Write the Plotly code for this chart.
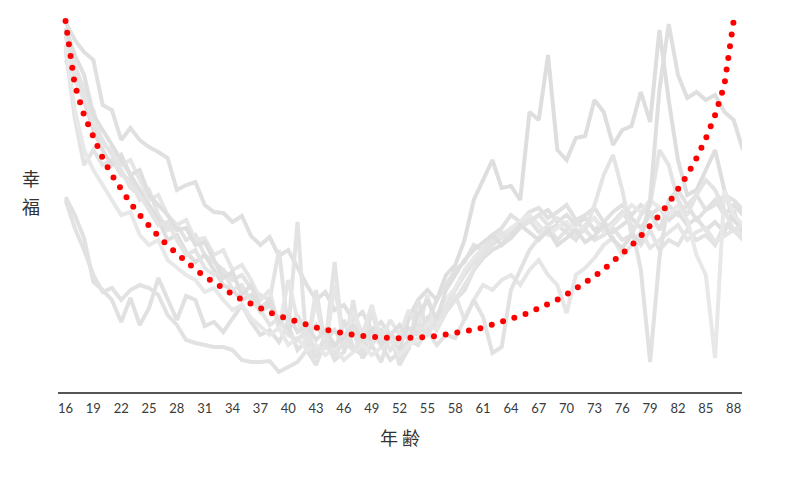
import plotly.graph_objects as go

# ---------------- data ----------------
start_age = 16
tick_ages = [16, 19, 22, 25, 28, 31, 34, 37, 40, 43, 46, 49, 52, 55, 58, 61, 64, 67, 70, 73, 76, 79, 82, 85, 88]

# fitted U-curve (ages 16..88)
fit_half = [371, 306.9, 276.9, 253.4, 233.9, 216.9, 202.1, 188.8, 176.8, 165.9, 155.9, 146.6,
            137.9, 129.9, 122.5, 115.6, 109.2, 103.2, 97.6, 92.4, 87.7, 83.4, 79.5, 76.0,
            72.8, 69.8, 67.0, 64.5, 62.3, 60.3, 58.6, 57.2, 56.0, 55.0, 54.3, 53.9]
fit_min = [53.8]
fit_curve = fit_half + fit_min + fit_half[::-1]

# individual series (ages 16..89)
s1 = [370, 352, 340, 332, 287, 282, 252, 264, 252, 245, 240, 234, 202, 207, 210, 187, 180, 179, 170, 176,
      156, 147, 155, 136, 142, 124, 107, 92, 100, 82, 87, 72, 80, 62, 70, 57, 52, 64, 57, 74,
      62, 80, 92, 102, 122, 134, 142, 147, 160, 167, 170, 177, 182, 170, 177, 167, 174, 162, 170, 160,
      167, 174, 164, 177, 184, 172, 180, 167, 174, 162, 170, 160, 182, 154]
s2 = [342, 274, 227, 242, 227, 232, 217, 212, 192, 202, 177, 162, 167, 152, 157, 137, 130, 122, 112, 117,
      104, 97, 92, 142, 62, 170, 42, 102, 47, 130, 42, 92, 37, 82, 47, 54, 32, 52, 47, 62,
      72, 87, 102, 117, 130, 137, 147, 154, 162, 166, 172, 160, 166, 152, 162, 170, 162, 152, 157, 164,
      152, 157, 147, 162, 142, 152, 147, 162, 152, 157, 147, 167, 162, 152]
s3 = [195, 177, 154, 110, 102, 92, 70, 94, 67, 84, 114, 92, 72, 96, 92, 66, 70, 60, 74, 87,
      70, 57, 62, 50, 67, 42, 52, 34, 57, 40, 72, 44, 37, 62, 47, 32, 40, 52, 62, 70,
      92, 107, 122, 130, 147, 142, 157, 164, 177, 170, 180, 184, 174, 180, 187, 172, 177, 184, 170, 180,
      187, 177, 187, 180, 162, 187, 177, 187, 172, 182, 192, 177, 187, 177]
s4 = [332, 317, 292, 262, 242, 227, 237, 217, 202, 187, 172, 152, 157, 140, 130, 137, 122, 107, 102, 92,
      97, 80, 87, 72, 62, 77, 57, 67, 52, 62, 47, 57, 62, 50, 62, 54, 42, 74, 92, 102,
      92, 117, 127, 152, 192, 212, 232, 204, 206, 192, 280, 272, 337, 242, 232, 254, 256, 292, 280, 247,
      262, 266, 300, 270, 362, 292, 232, 197, 202, 222, 242, 202, 172, 162]
s5 = [357, 312, 292, 282, 247, 242, 227, 232, 212, 192, 197, 177, 167, 172, 152, 154, 137, 142, 122, 127,
      112, 92, 102, 62, 112, 72, 47, 92, 42, 107, 47, 82, 57, 87, 52, 72, 57, 82, 62, 97,
      62, 82, 97, 72, 92, 107, 102, 112, 117, 107, 122, 132, 117, 107, 79, 117, 124, 134, 147, 154,
      137, 147, 160, 144, 152, 160, 167, 152, 160, 164, 150, 156, 162, 157]
s6 = [192, 164, 142, 117, 100, 104, 92, 102, 107, 104, 97, 77, 67, 52, 49, 47, 45, 45, 42, 32,
      30, 30, 31, 20, 25, 30, 42, 27, 52, 32, 40, 62, 34, 47, 30, 57, 27, 44, 92, 62,
      47, 57, 54, 72, 92, 75, 39, 45, 102, 122, 142, 154, 162, 167, 160, 152, 167, 174, 162, 170,
      180, 167, 122, 30, 134, 192, 202, 187, 197, 182, 187, 197, 192, 182]
s7 = [347, 282, 242, 222, 207, 192, 177, 180, 157, 147, 152, 132, 124, 117, 112, 100, 104, 92, 82, 87,
      74, 66, 57, 64, 47, 54, 42, 47, 37, 44, 32, 40, 47, 37, 44, 52, 37, 47, 54, 67,
      77, 92, 104, 122, 134, 144, 152, 157, 164, 170, 177, 167, 157, 164, 170, 160, 166, 174, 160, 167,
      177, 187, 180, 192, 184, 177, 187, 172, 137, 117, 34, 202, 177, 167]
s8 = [362, 327, 302, 267, 252, 237, 222, 204, 197, 182, 167, 170, 152, 137, 142, 124, 117, 122, 102, 107,
      90, 82, 67, 74, 57, 52, 62, 40, 47, 37, 50, 42, 54, 47, 60, 42, 52, 57, 67, 57,
      72, 84, 92, 107, 122, 142, 152, 160, 154, 164, 170, 177, 167, 174, 166, 157, 162, 187, 217, 237,
      202, 157, 177, 187, 242, 227, 192, 177, 197, 212, 202, 182, 162, 167]
s9 = [364, 337, 317, 277, 262, 247, 232, 217, 222, 197, 187, 177, 162, 164, 147, 150, 132, 114, 120, 97,
      107, 84, 92, 70, 77, 60, 67, 52, 62, 47, 54, 67, 52, 62, 47, 57, 67, 52, 77, 92,
      72, 102, 117, 132, 142, 150, 157, 147, 154, 167, 160, 152, 162, 147, 154, 162, 150, 156, 167, 152,
      144, 157, 150, 192, 302, 368, 317, 294, 300, 292, 297, 280, 272, 242]

series = [s1, s2, s3, s4, s5, s6, s7, s8, s9]
grey_colors = ["#e0e0e0", "#e3e3e3", "#e1e1e1", "#dedede", "#e6e6e6", "#e2e2e2", "#e8e8e8", "#e4e4e4", "#dfdfdf"]

fig = go.Figure()
for vals, col in zip(series, grey_colors):
    fig.add_trace(go.Scatter(
        x=list(range(start_age, start_age + len(vals))), y=vals, mode="lines",
        line=dict(color=col, width=4), hoverinfo="skip", showlegend=False))

fig.add_trace(go.Scatter(
    x=list(range(start_age, start_age + len(fit_curve))), y=fit_curve, mode="lines",
    line=dict(color="rgb(255,0,0)", width=6, dash="0px,11.8px"),
    hoverinfo="skip", showlegend=False))

label_font = dict(family="Noto Sans CJK SC", size=18, color="#333333")
fig.update_layout(
    width=800, height=500,
    margin=dict(l=58, r=58, t=15, b=108),
    paper_bgcolor="white", plot_bgcolor="white",
    xaxis=dict(range=[15.19, 88.9], showgrid=False, zeroline=False,
               showline=True, linecolor="#555555", linewidth=2,
               tickmode="array", tickvals=tick_ages, ticktext=[str(a) for a in tick_ages],
               ticks="", ticklabelstandoff=3,
               tickfont=dict(family="Lato", size=13, color="#3a3a3a")),
    yaxis=dict(range=[0, 377], showgrid=False, zeroline=False, showline=False,
               showticklabels=False, ticks=""),
    annotations=[
        dict(text="幸", x=-0.0395, y=0.5676, xref="paper", yref="paper", showarrow=False,
             xanchor="center", yanchor="middle", font=label_font),
        dict(text="福", x=-0.0395, y=0.4934, xref="paper", yref="paper", showarrow=False,
             xanchor="center", yanchor="middle", font=label_font),
        dict(text="年 齢", x=0.5, y=-0.119, xref="paper", yref="paper", showarrow=False,
             xanchor="center", yanchor="middle", font=label_font),
    ],
)

post = """
document.body.style.margin = '0';
document.documentElement.style.margin = '0';
function roundDots(){
  document.querySelectorAll('path.js-line').forEach(function(p){
    if ((p.style.stroke || '').replace(/\\s/g,'') === 'rgb(255,0,0)') { p.style.strokeLinecap = 'round'; }
  });
}
roundDots(); setTimeout(roundDots, 50); setTimeout(roundDots, 300);
var gd = document.getElementById('{plot_id}');
if (gd && gd.on) { gd.on('plotly_afterplot', roundDots); }
"""
fig.write_html("out.html", post_script=post, config={"displayModeBar": False, "staticPlot": True})
